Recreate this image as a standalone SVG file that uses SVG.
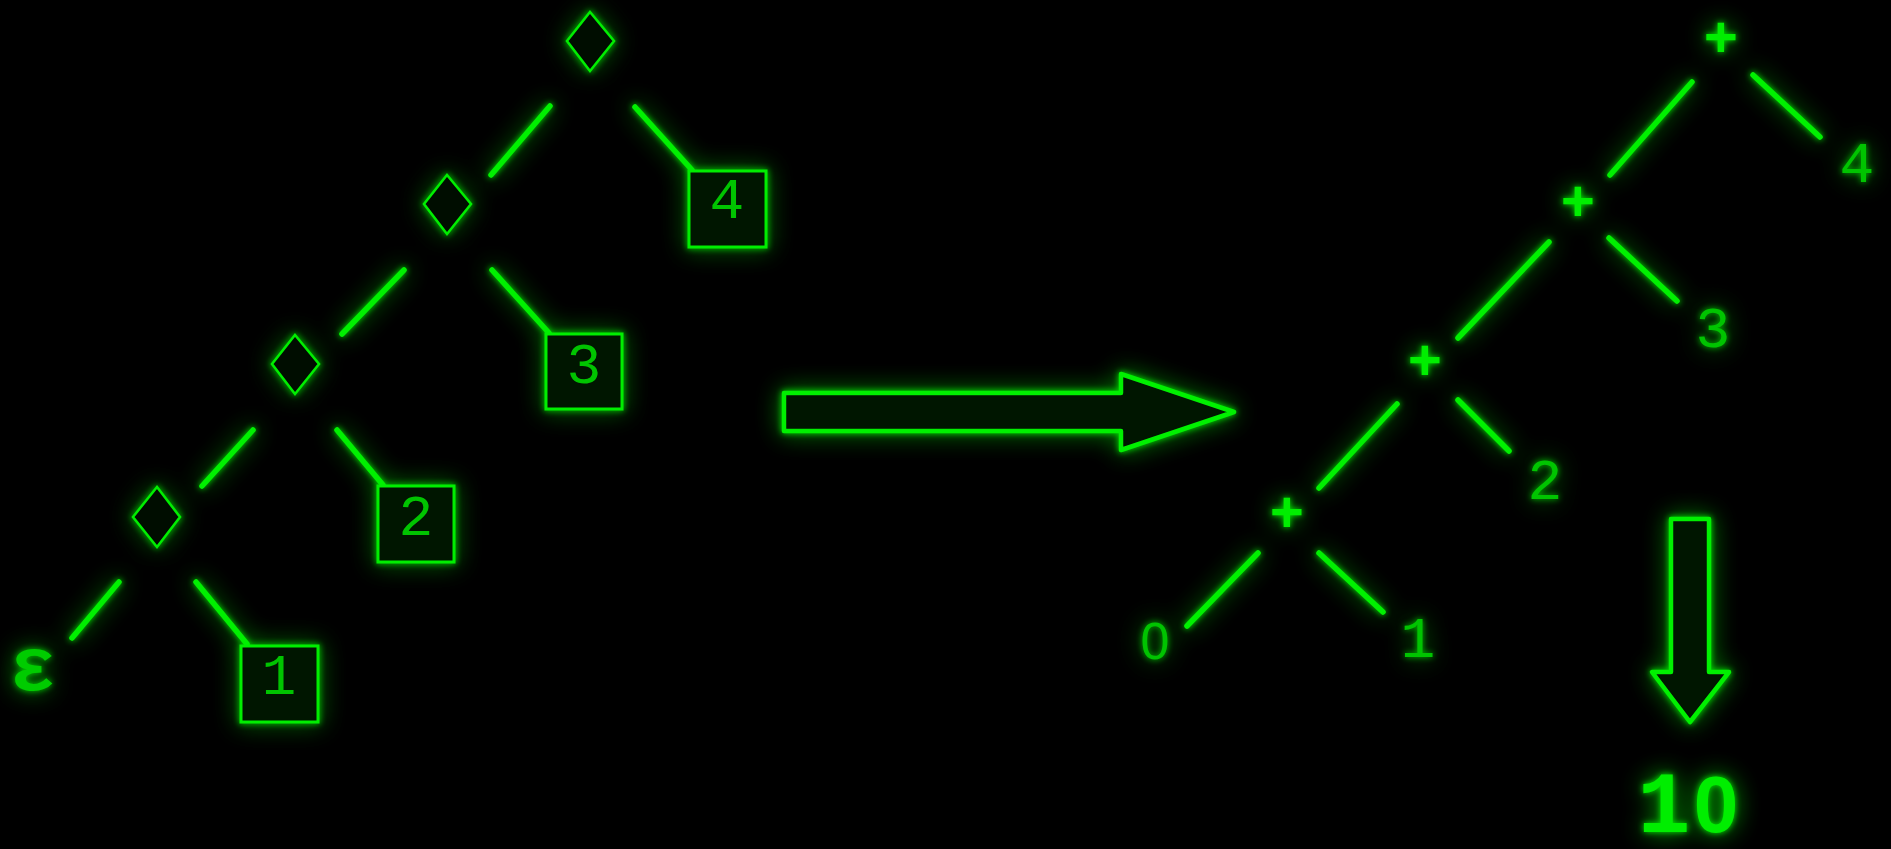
<svg xmlns="http://www.w3.org/2000/svg" width="1891" height="849" viewBox="0 0 1891 849">
<defs>
<filter id="glow" x="-60%" y="-60%" width="220%" height="220%">
<feGaussianBlur in="SourceGraphic" stdDeviation="3" result="b1"/>
<feGaussianBlur in="SourceGraphic" stdDeviation="12" result="b2"/>
<feComponentTransfer in="b2" result="b2a"><feFuncA type="linear" slope="0.8"/></feComponentTransfer>
<feMerge><feMergeNode in="b2a"/><feMergeNode in="b1"/><feMergeNode in="SourceGraphic"/></feMerge>
</filter>
</defs>
<style>
.edge{stroke:#00f000;stroke-width:5.5;stroke-linecap:round;fill:none}
.dia{stroke:#00ee00;stroke-width:2.5;fill:#000d00;stroke-linejoin:miter}
.box{stroke:#00ee00;stroke-width:3;fill:#001400}
.num{font-family:"Liberation Mono",monospace;font-size:58px;fill:#00c400;text-anchor:middle}
.zero{font-family:"Liberation Sans",sans-serif;font-size:52px;fill:#00c400;text-anchor:middle}
.op{font-family:"Liberation Mono",monospace;font-size:58px;font-weight:bold;fill:#00ee00;text-anchor:middle}
.big{stroke:#00f000;stroke-width:4.5;fill:#001200;stroke-linejoin:round}
</style>
<rect width="1891" height="849" fill="#000"/>
<g filter="url(#glow)">
<g id="connectors">
<line class="edge" x1="491" y1="175" x2="550" y2="106"/>
<line class="edge" x1="635" y1="107" x2="692" y2="170"/>
<line class="edge" x1="342" y1="334" x2="404" y2="270"/>
<line class="edge" x1="492" y1="270" x2="549" y2="333"/>
<line class="edge" x1="202" y1="486" x2="253" y2="430"/>
<line class="edge" x1="337" y1="430" x2="383" y2="485"/>
<line class="edge" x1="72" y1="638" x2="119" y2="582"/>
<line class="edge" x1="196" y1="582" x2="247" y2="644"/>
<line class="edge" x1="1610" y1="175" x2="1692" y2="82"/>
<line class="edge" x1="1753" y1="75" x2="1820" y2="137"/>
<line class="edge" x1="1458" y1="338" x2="1549" y2="242"/>
<line class="edge" x1="1609" y1="238" x2="1677" y2="301"/>
<line class="edge" x1="1319" y1="488" x2="1397" y2="404"/>
<line class="edge" x1="1458" y1="400" x2="1509" y2="451"/>
<line class="edge" x1="1187" y1="626" x2="1258" y2="553"/>
<line class="edge" x1="1319" y1="553" x2="1383" y2="612"/>
<path class="big" d="M784,393 L1121,393 L1121,374 L1234,412 L1121,450 L1121,431 L784,431 Z"/>
<path class="big" d="M1671,519 L1709,519 L1709,672 L1729,672 L1690,722 L1652,672 L1671,672 Z"/>
</g>
<g id="d1"><path class="dia" d="M590,12 L614,41 L590,71 L567,41 Z"/></g>
<g id="d2"><path class="dia" d="M447,175 L471,204 L447,234 L424,204 Z"/></g>
<g id="d3"><path class="dia" d="M295,335 L319,364 L295,394 L272,364 Z"/></g>
<g id="d4"><path class="dia" d="M157,487 L180,517 L157,547 L133,517 Z"/></g>
<g id="b4"><rect class="box" x="689" y="171" width="77" height="76"/><text class="num" x="727" y="218">4</text></g>
<g id="b3"><rect class="box" x="546" y="334" width="76" height="75"/><text class="num" x="584" y="383">3</text></g>
<g id="b2"><rect class="box" x="378" y="486" width="76" height="76"/><text class="num" x="416" y="535">2</text></g>
<g id="b1"><rect class="box" x="241" y="646" width="77" height="76"/><text class="num" x="279" y="694">1</text></g>
<g id="eps"><text x="33" y="690" style="font-family:'Liberation Mono',monospace;font-size:76px;font-weight:bold;fill:#00cc00;text-anchor:middle">ε</text></g>
<g id="p1"><text class="op" x="1721" y="57">+</text></g>
<g id="p2"><text class="op" x="1578" y="221">+</text></g>
<g id="p3"><text class="op" x="1425" y="380">+</text></g>
<g id="p4"><text class="op" x="1287" y="532">+</text></g>
<g id="r4"><text class="num" x="1857" y="182">4</text></g>
<g id="r3"><text class="num" x="1713" y="347">3</text></g>
<g id="r2"><text class="num" x="1545" y="499">2</text></g>
<g id="r0"><text class="zero" x="1155" y="659">0</text></g>
<g id="r1"><text class="num" x="1418" y="657">1</text></g>
<g id="result"><text y="832" style="font-weight:bold;fill:#00ee00;text-anchor:middle"><tspan x="1664" style="font-family:'Liberation Mono',monospace;font-size:88px">1</tspan><tspan x="1716" style="font-family:'Liberation Sans',sans-serif;font-size:80px">0</tspan></text></g>
</g>
</svg>
